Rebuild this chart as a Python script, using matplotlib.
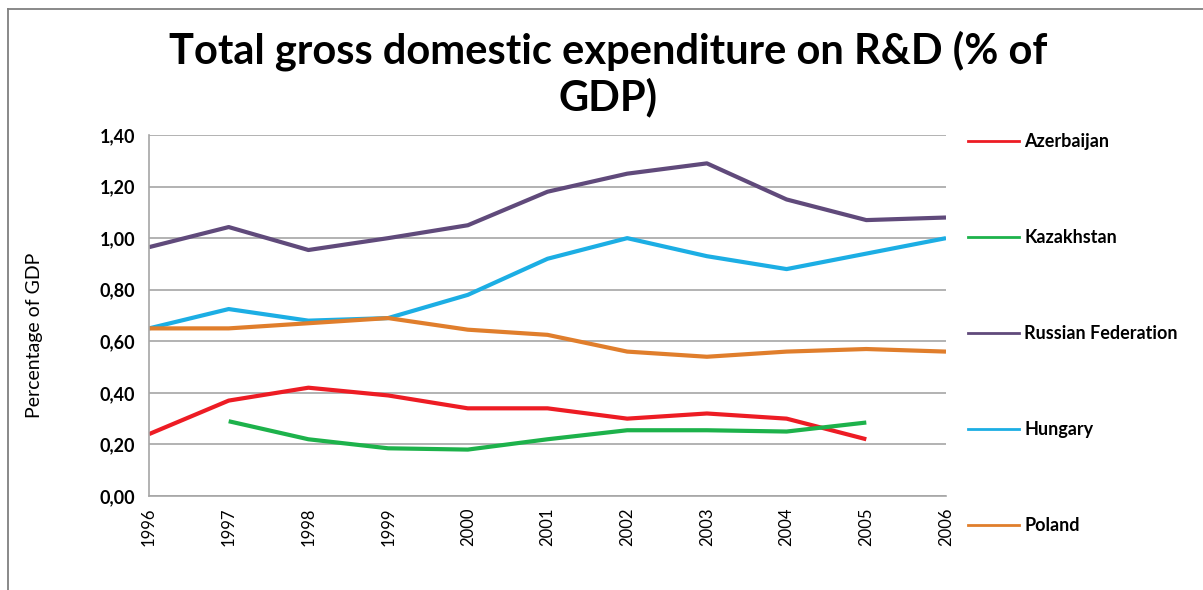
import matplotlib
matplotlib.use("Agg")
import matplotlib.pyplot as plt
import matplotlib.ticker as ticker
from matplotlib.lines import Line2D

plt.rcParams['font.family'] = ['Lato', 'DejaVu Sans']

years = [1996, 1997, 1998, 1999, 2000, 2001, 2002, 2003, 2004, 2005, 2006]

azerbaijan = [0.24, 0.37, 0.42, 0.39, 0.34, 0.34, 0.30, 0.32, 0.30, 0.22]
kazakhstan = [0.29, 0.22, 0.185, 0.18, 0.22, 0.255, 0.255, 0.25, 0.285]
russia = [0.965, 1.043, 0.954, 1.00, 1.05, 1.18, 1.25, 1.29, 1.15, 1.07, 1.08]
hungary = [0.65, 0.725, 0.68, 0.69, 0.78, 0.92, 1.00, 0.93, 0.88, 0.94, 1.00]
poland = [0.65, 0.65, 0.67, 0.69, 0.645, 0.625, 0.56, 0.54, 0.56, 0.57, 0.56]

series = [
    ("Azerbaijan", years[:10], azerbaijan, "#ED1C24"),
    ("Kazakhstan", years[1:10], kazakhstan, "#1DB24B"),
    ("Russian Federation", years, russia, "#604A7B"),
    ("Hungary", years, hungary, "#1CAEE4"),
    ("Poland", years, poland, "#E07E2C"),
]

fig = plt.figure(figsize=(12.03, 5.9), dpi=100)
ax = fig.add_axes([149/1203, 1 - 496/590, (946 - 149)/1203, (496 - 135)/590])

for name, xs, ys, col in series:
    ax.plot(xs, ys, color=col, linewidth=3.0, label=name, solid_capstyle='butt')

ax.set_xlim(1996, 2006)
ax.set_ylim(0, 1.4)
ax.set_xticks(years)
ax.set_xticklabels([str(y) for y in years], rotation=90, fontsize=12)
ax.yaxis.set_major_locator(ticker.MultipleLocator(0.2))
ax.yaxis.set_major_formatter(ticker.FuncFormatter(lambda v, p: f"{v:.2f}".replace(".", ",")))
for lab in ax.get_yticklabels():
    lab.set_fontweight('bold')
ax.tick_params(axis='y', length=0, labelsize=13, pad=10)
ax.tick_params(axis='x', length=0, pad=8)
ax.grid(axis='y', color='#A6A6A6', linewidth=1.2)
ax.set_axisbelow(True)
for s in ['top', 'right']:
    ax.spines[s].set_visible(False)
ax.spines['left'].set_color('#A6A6A6')
ax.spines['bottom'].set_color('#A6A6A6')
ax.spines['left'].set_linewidth(1.2)
ax.spines['bottom'].set_linewidth(1.2)

fig.text(35/1203, 1 - 335/590, "Percentage of GDP", rotation=90, ha='center', va='center', fontsize=14)

fig.text(608/1203, 1 - 74/590, "Total gross domestic expenditure on R&D (% of\nGDP)",
         ha='center', va='center', fontsize=30, fontweight='bold', linespacing=1.2)

handles = [Line2D([0], [0], color=c, linewidth=2) for _, _, _, c in series]
fig.legend(handles, [s[0] for s in series], loc='upper left',
           bbox_to_anchor=(952/1203, 1 - 117/590), frameon=False,
           prop={'size': 13, 'weight': 'bold'}, handlelength=2.8, handletextpad=0.3,
           labelspacing=4.37)

# chart-area border (top and left only visible)
fig.add_artist(Line2D([8/1203, 8/1203], [0, 1 - 9/590], transform=fig.transFigure, color='#808080', linewidth=1.3))
fig.add_artist(Line2D([8/1203, 1], [1 - 9/590, 1 - 9/590], transform=fig.transFigure, color='#808080', linewidth=1.3))

fig.savefig("out.png", dpi=100)
